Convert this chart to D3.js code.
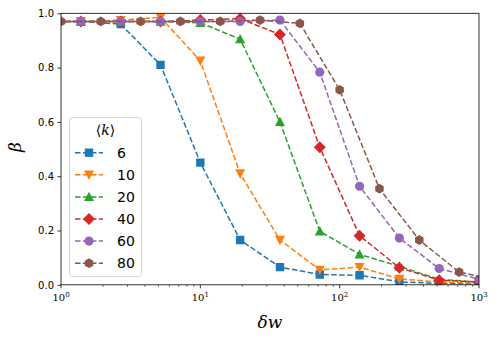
<!DOCTYPE html>
<html lang="en">
<head>
  <meta charset="utf-8">
  <script src="https://d3js.org/d3.v7.min.js"></script>
  <style>
    body { margin: 0; background: #fff; }
  </style>
</head>
<body>
  <div id="my_dataviz"></div>
  <script>
    // x grid: ratio r = 1000^(1/10.5); most series sit on half steps, <k>=80 on whole steps
    const r = Math.pow(1000, 1 / 10.5);
    const xHalf = d3.range(-1, 11).map(k => Math.pow(r, k + 0.5));
    const xWhole = d3.range(0, 12).map(k => Math.pow(r, k));

    const labels = ["6", "10", "20", "40", "60", "80"];
    const colors = ["#1f77b4", "#ff7f0e", "#2ca02c", "#d62728", "#9467bd", "#8c564b"];
    const symbols = ["square", "triangleDown", "triangleUp", "diamond", "circle", "hexagon"];

    const beta6  = [0.97, 0.97, 0.96, 0.81, 0.45, 0.165, 0.065, 0.038, 0.035, 0.011, 0.005, 0.003];
    const beta10 = [0.97, 0.97, 0.975, 0.985, 0.825, 0.41, 0.165, 0.055, 0.065, 0.022, 0.01, 0.006];
    const beta20 = [0.97, 0.97, 0.97, 0.97, 0.965, 0.905, 0.60, 0.197, 0.112, 0.068, 0.02, 0.01];
    const beta40 = [0.97, 0.97, 0.97, 0.97, 0.975, 0.98, 0.922, 0.507, 0.181, 0.063, 0.017, 0.01];
    const beta60 = [0.97, 0.97, 0.97, 0.97, 0.97, 0.97, 0.975, 0.783, 0.363, 0.172, 0.06, 0.02];
    const beta80 = [0.97, 0.97, 0.97, 0.97, 0.97, 0.975, 0.963, 0.718, 0.354, 0.165, 0.047, 0.015];

    const series = [beta6, beta10, beta20, beta40, beta60, beta80];
    const xs = [xHalf, xHalf, xHalf, xHalf, xHalf, xWhole];

    const W = 498, H = 339;
    const margin = {top: 13.3, right: 19, bottom: 54.2, left: 61},
        width = W - margin.left - margin.right,
        height = H - margin.top - margin.bottom;

    const svgRoot = d3.select("#my_dataviz")
      .append("svg")
        .attr("width", W)
        .attr("height", H);

    const svg = svgRoot.append("g")
        .attr("transform", `translate(${margin.left},${margin.top})`);

    const x = d3.scaleLog().domain([1, 1000]).range([0, width]);
    const y = d3.scaleLinear().domain([0, 1]).range([height, 0]);

    svg.append("clipPath").attr("id", "clip")
      .append("rect").attr("width", width).attr("height", height);

    // marker shapes, sized to look like matplotlib's defaults
    function markerPath(sym) {
      const s = 4.2;
      switch (sym) {
        case "square": return `M${-s},${-s}H${s}V${s}H${-s}Z`;
        case "triangleDown": return `M${-5},${-4.2}L5,-4.2L0,5.2Z`;
        case "triangleUp": return `M${-5},4.2L5,4.2L0,-5.2Z`;
        case "diamond": return `M0,-6L6,0L0,6L-6,0Z`;
        case "circle": return d3.symbol(d3.symbolCircle, Math.PI * 4.6 * 4.6)();
        case "hexagon": {
          const pts = d3.range(6).map(i => {
            const a = Math.PI / 2 + i * Math.PI / 3;
            return [4.9 * Math.cos(a), 4.9 * Math.sin(a)];
          });
          return "M" + pts.map(p => p.join(",")).join("L") + "Z";
        }
      }
    }

    const plot = svg.append("g").attr("clip-path", "url(#clip)");
    const line = d3.line().x(d => x(d[0])).y(d => y(d[1]));

    series.forEach((vals, i) => {
      const pts = vals.map((v, j) => [xs[i][j], v]);
      const g = plot.append("g");
      g.append("path")
        .datum(pts)
        .attr("d", line)
        .attr("fill", "none")
        .attr("stroke", colors[i])
        .attr("stroke-width", 1.5)
        .attr("stroke-dasharray", "5.55,2.4");
      g.selectAll("path.mk")
        .data(pts)
        .join("path")
          .attr("class", "mk")
          .attr("d", markerPath(symbols[i]))
          .attr("transform", d => `translate(${x(d[0])},${y(d[1])})`)
          .attr("fill", colors[i]);
    });

    // X axis (log, with minor ticks)
    const xMajor = [1, 10, 100, 1000];
    const xMinor = [];
    [1, 10, 100].forEach(b => d3.range(2, 10).forEach(m => xMinor.push(b * m)));

    const xAxis = svg.append("g").attr("transform", `translate(0,${height})`);
    xAxis.selectAll("line.minor").data(xMinor).join("line")
      .attr("x1", d => x(d)).attr("x2", d => x(d))
      .attr("y1", 0).attr("y2", 2)
      .attr("stroke", "#000").attr("stroke-width", 0.6);
    xAxis.selectAll("line.major").data(xMajor).join("line")
      .attr("x1", d => x(d)).attr("x2", d => x(d))
      .attr("y1", 0).attr("y2", 3.5)
      .attr("stroke", "#000").attr("stroke-width", 0.8);
    const xt = xAxis.selectAll("text").data(xMajor).join("text")
      .attr("x", d => x(d))
      .attr("y", 16)
      .attr("text-anchor", "middle")
      .style("font-family", "'DejaVu Serif', serif")
      .style("font-size", "10px");
    xt.append("tspan").text("10");
    xt.append("tspan").attr("dy", -4).style("font-size", "7px").text(d => Math.round(Math.log10(d)));

    // Y axis
    const yAxis = svg.append("g").call(d3.axisLeft(y).tickValues([0, 0.2, 0.4, 0.6, 0.8, 1.0])
      .tickFormat(d3.format(".1f")).tickSize(3.5).tickPadding(3.5));
    yAxis.select(".domain").remove();
    yAxis.selectAll("line").attr("stroke-width", 0.8);
    yAxis.selectAll("text")
      .style("font-family", "'DejaVu Sans', sans-serif")
      .style("font-size", "10px");

    // frame
    svg.append("rect")
      .attr("width", width).attr("height", height)
      .attr("fill", "none").attr("stroke", "#000").attr("stroke-width", 0.8);

    // axis labels
    svg.append("text")
      .attr("x", width / 2)
      .attr("y", height + 43)
      .attr("text-anchor", "middle")
      .style("font-family", "'DejaVu Serif', serif")
      .style("font-style", "italic")
      .style("font-size", "17px")
      .text("δw");

    svg.append("text")
      .attr("transform", "rotate(-90)")
      .attr("x", -(147 - margin.top))
      .attr("y", 21 - margin.left)
      .attr("text-anchor", "middle")
      .style("font-family", "'DejaVu Serif', serif")
      .style("font-style", "italic")
      .style("font-size", "17px")
      .text("β");

    // legend
    const lg = svgRoot.append("g");
    lg.append("rect")
      .attr("x", 69.5).attr("y", 117.5)
      .attr("width", 72).attr("height", 159)
      .attr("rx", 3)
      .attr("fill", "#fff").attr("fill-opacity", 0.8)
      .attr("stroke", "#ccc").attr("stroke-width", 0.8);
    lg.append("text")
      .attr("x", 105.5).attr("y", 135)
      .attr("text-anchor", "middle")
      .style("font-family", "'DejaVu Serif', serif")
      .style("font-size", "14px")
      .html("⟨<tspan font-style='italic'>k</tspan>⟩");

    labels.forEach((lab, i) => {
      const yy = 152.7 + i * 22.1;
      lg.append("line")
        .attr("x1", 75).attr("x2", 103)
        .attr("y1", yy).attr("y2", yy)
        .attr("stroke", colors[i]).attr("stroke-width", 1.5)
        .attr("stroke-dasharray", "5.55,2.4");
      lg.append("path")
        .attr("d", markerPath(symbols[i]))
        .attr("transform", `translate(89,${yy})`)
        .attr("fill", colors[i]);
      lg.append("text")
        .attr("x", 117).attr("y", yy + 5)
        .style("font-family", "'DejaVu Sans', sans-serif")
        .style("font-size", "14px")
        .text(lab);
    });
  </script>
</body>
</html>
